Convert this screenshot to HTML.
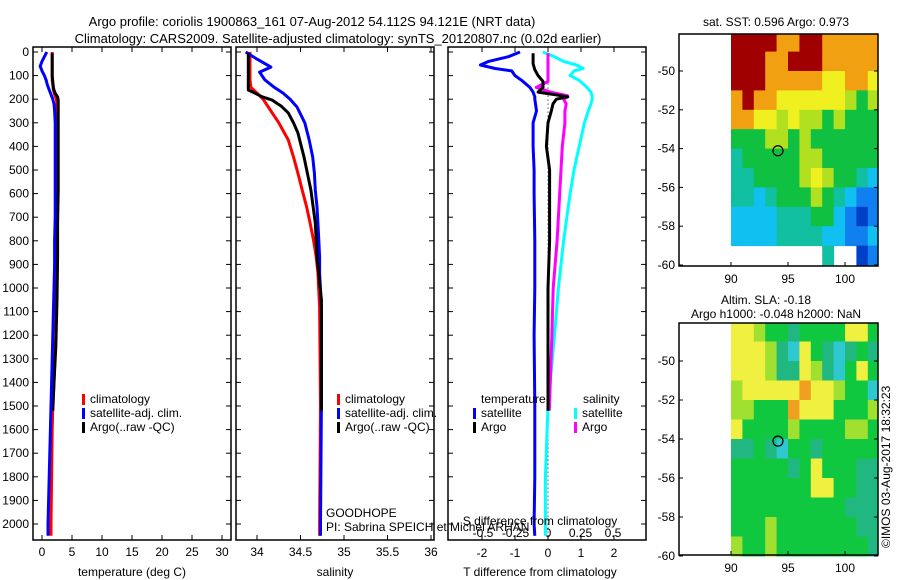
<!DOCTYPE html>
<html><head><meta charset="utf-8"><style>
html,body{margin:0;padding:0;background:#fff;}
svg{display:block;font-family:"Liberation Sans",sans-serif;}
</style></head><body>
<svg id="c" width="900" height="580" viewBox="0 0 900 580">
<text x="312" y="26" font-size="13" text-anchor="middle">Argo profile: coriolis 1900863_161 07-Aug-2012 54.112S 94.121E (NRT data)</text>
<text x="338" y="43" font-size="13" text-anchor="middle">Climatology: CARS2009. Satellite-adjusted climatology: synTS_20120807.nc (0.02d earlier)</text>
<text x="776" y="26" font-size="12" text-anchor="middle">sat. SST: 0.596 Argo: 0.973</text>
<text x="766" y="304" font-size="12" text-anchor="middle">Altim. SLA: -0.18</text>
<text x="776" y="318" font-size="12" text-anchor="middle">Argo h1000: -0.048 h2000: NaN</text>
<text transform="translate(890,548) rotate(-90)" font-size="12">©IMOS 03-Aug-2017 18:32:23</text>
<text x="326" y="517" font-size="12">GOODHOPE</text>
<text x="326" y="531" font-size="12">PI: Sabrina SPEICH et Michel ARHAN</text>
</svg>
<script>
// ---------- data ----------
const depthTicks=[0,100,200,300,400,500,600,700,800,900,1000,1100,1200,1300,1400,1500,1600,1700,1800,1900,2000];
const climDepth=[0,20,40,60,80,100,120,140,160,180,200,220,250,300,400,500,600,700,800,900,1000,1200,1400,1500,1600,1800,2000,2050];
const climT=[1.7,1.7,1.7,1.7,1.7,1.7,1.7,1.8,1.9,2.1,2.4,2.5,2.5,2.5,2.5,2.5,2.5,2.5,2.5,2.4,2.4,2.3,2.0,1.8,1.7,1.6,1.5,1.5];
const satT=[0.8,0.4,0.0,-0.3,0.0,0.4,0.7,0.9,1.2,1.5,1.8,2.0,2.1,2.2,2.2,2.2,2.2,2.2,2.1,2.1,2.0,1.8,1.6,1.5,1.4,1.2,1.0,1.0];
const salDepth=[0,30,64,85,118,150,174,200,233,300,373,445,513,585,656,725,797,868,936,1080,1500,2000,2050];
const climS=[33.92,33.92,33.92,33.92,33.92,33.93,34.0,34.07,34.13,34.25,34.36,34.42,34.47,34.52,34.57,34.61,34.65,34.68,34.7,34.72,34.73,34.72,34.72];
const satS=[33.87,34.0,34.16,34.03,34.09,34.2,34.3,34.38,34.46,34.55,34.6,34.64,34.66,34.67,34.69,34.7,34.71,34.72,34.72,34.74,34.74,34.73,34.73];
const argoDepth=[5,25,50,75,100,125,150,161,175,190,203,230,258,300,343,445,585,725,868,1050,1250,1400,1520];
const argoT=[1.7,1.7,1.7,1.7,1.7,1.8,1.9,2.0,2.2,2.6,2.7,2.7,2.7,2.7,2.7,2.7,2.7,2.6,2.6,2.5,2.3,2.0,1.8];
const argoS=[33.9,33.9,33.9,33.9,33.9,33.9,33.9,33.9,33.98,34.06,34.17,34.28,34.36,34.42,34.47,34.54,34.62,34.67,34.69,34.74,34.74,34.74,34.74];
const diffDepth=[0,20,40,55,70,80,100,120,150,170,190,200,220,250,300,400,500,600,800,1000,1200,1500,1800,2000,2050];
const dTsat=[-0.85,-1.2,-1.8,-2.05,-1.6,-1.1,-1.0,-0.8,-0.55,-0.45,-0.4,-0.4,-0.38,-0.35,-0.45,-0.45,-0.42,-0.42,-0.4,-0.4,-0.42,-0.4,-0.4,-0.42,-0.4];
const dSsat=[-0.04,0.05,0.12,0.22,0.27,0.2,0.17,0.24,0.3,0.33,0.34,0.34,0.33,0.31,0.28,0.24,0.2,0.17,0.12,0.08,0.05,0.0,-0.02,-0.02,-0.02];
const dDiffArgo=[5,25,50,75,100,125,150,170,185,190,200,220,250,300,400,500,600,800,1000,1200,1520];
const dTargo=[-0.45,-0.45,-0.45,-0.4,-0.3,-0.15,-0.15,-0.3,0.4,0.6,0.25,0.15,0.1,0.0,-0.05,0.05,0.05,0.05,0.0,0.0,0.0];
const dSargo=[0.0,0.0,0.0,0.0,0.0,0.0,-0.09,0.02,0.15,0.15,0.12,0.14,0.13,0.13,0.11,0.1,0.09,0.07,0.04,0.03,0.01];
const lonTicks=[90,95,100];
const latTicks=[-50,-52,-54,-56,-58,-60];
const mapLon0=90;
const sstGrid=[
[8,8,8,8,7,7,8,8,7,7,7,7,7],
[8,8,8,7,7,8,8,8,7,7,7,7,7],
[8,8,8,7,7,7,7,7,6,6,7,7,6],
[7,8,7,7,6,6,6,6,6,6,5,4,5],
[7,7,6,6,5,6,5,5,4,5,4,4,4],
[4,4,4,5,5,4,5,4,4,4,4,4,4],
[3,4,4,4,4,4,5,5,4,4,4,4,4],
[3,3,4,4,4,4,5,6,5,4,4,3,2],
[3,3,2,3,4,4,4,5,4,3,2,1,1],
[2,2,2,2,3,3,3,4,4,2,1,0,1],
[2,2,2,2,3,3,3,3,2,2,1,1,2],
[-1,-1,-1,-1,-1,-1,-1,-1,3,-1,-1,0,1]];
const slaGrid=[
[6,6,5,4,4,3,4,4,4,4,6,6,4],
[6,6,6,5,3,2,6,4,3,2,3,4,3],
[6,6,6,5,3,3,6,5,3,2,4,6,4],
[5,6,6,6,6,6,7,6,6,5,4,4,2],
[5,5,4,4,4,7,6,6,6,4,4,4,5],
[6,4,4,4,4,5,4,4,4,4,5,5,4],
[3,3,4,3,2,4,4,3,4,4,4,4,4],
[4,4,4,4,4,3,4,6,4,4,4,3,3],
[4,4,4,4,4,4,4,6,6,4,4,3,3],
[4,4,4,4,4,4,4,4,4,4,3,3,3],
[4,4,4,5,4,4,4,4,4,4,4,3,3],
[5,4,4,5,4,4,4,4,4,4,4,4,3]];
const argoLon=94.12, argoLat=-54.11;
const palette=["#0040c8","#1080f0","#10c0f0","#10c0a0","#10c040","#b0e020","#f0f020","#f0a010","#a00000"];
const slaPalette=["#0040c8","#10a0e0","#30c8d0","#20b880","#10c840","#a0e030","#f0f040","#f0a020","#a00000"];

// ---------- helpers ----------
const NS="http://www.w3.org/2000/svg";
const svg=document.getElementById('c');
function mk(tag,attrs,parent){const e=document.createElementNS(NS,tag);for(const k in attrs)e.setAttribute(k,attrs[k]);(parent||svg).appendChild(e);return e;}
const yD=d=>52+d*0.236;
const PY0=47,PY1=540;

function panel(x0,x1,name){
  const g=mk('g',{});
  
  
  const r=mk('rect',{x:x0,y:PY0,width:x1-x0,height:PY1-PY0,fill:'none',stroke:'#000','stroke-width':1.5},g);
  
  
  depthTicks.forEach(d=>{
    const y=yD(d);
    const t=mk('line',{x1:x0,x2:x0+5,y1:y,y2:y,stroke:'#000'},g);
    
    
    const t2=mk('line',{x1:x1,x2:x1-5,y1:y,y2:y,stroke:'#000'},g);
    
    
  });
  return g;
}
function xticks(g,vals,labels,fx,yl,top,bottom){
  vals.forEach((v,i)=>{
    const x=fx(v);
    if(bottom){const t=mk('line',{x1:x,x2:x,y1:PY1,y2:PY1-5,stroke:'#000'},g);
    
    }
    if(top){const t=mk('line',{x1:x,x2:x,y1:PY0,y2:PY0+5,stroke:'#000'},g);
    
    }
    const tx=mk('text',{x:x,y:yl,'font-size':12,'text-anchor':'middle'},g);
    tx.textContent=labels[i];
    
    
  });
}
function line(g,xs,ds,fx,color,name,w){
  const pts=xs.map((v,i)=>fx(v).toFixed(1)+','+yD(ds[i]).toFixed(1)).join(' ');
  const p=mk('polyline',{points:pts,fill:'none',stroke:color,'stroke-width':w||3,'stroke-linejoin':'round'},g);
  
  
}
function legendEntry(g,x,y,color,label){
  const r=mk('rect',{x:x,y:y-9,width:3,height:11,fill:color},g);
  
  
  const t=mk('text',{x:x+8,y:y,'font-size':12},g);
  t.textContent=label;
  
  
}

// depth labels
depthTicks.forEach(d=>{
  const t=mk('text',{x:29,y:yD(d)+4,'font-size':12,'text-anchor':'end'});
  t.textContent=d;
  
  
});

// panel 1: temperature
const fT=v=>42+v*6;
const g1=panel(33,231,'temperature-panel');
xticks(g1,[0,5,10,15,20,25,30],['0','5','10','15','20','25','30'],fT,556,true,true);
line(g1,climT,climDepth,fT,'#f00','clim-temperature-line');
line(g1,argoT,argoDepth,fT,'#000','argo-temperature-line');
line(g1,satT,climDepth,fT,'#00f','sat-temperature-line');
legendEntry(g1,82,403,'#f00','climatology');
legendEntry(g1,82,417,'#00f','satellite-adj. clim.');
legendEntry(g1,82,431,'#000','Argo(..raw -QC)');
let at=mk('text',{x:132,y:576,'font-size':12,'text-anchor':'middle'},g1);at.textContent='temperature (deg C)';



// panel 2: salinity
const fS=v=>257+(v-34)*87;
const g2=panel(236,434,'salinity-panel');
xticks(g2,[34,34.5,35,35.5,36],['34','34.5','35','35.5','36'],fS,556,true,true);
line(g2,climS,salDepth,fS,'#f00','clim-salinity-line');
line(g2,satS,salDepth,fS,'#00f','sat-salinity-line');
line(g2,argoS,argoDepth,fS,'#000','argo-salinity-line');
legendEntry(g2,337,403,'#f00','climatology');
legendEntry(g2,337,417,'#00f','satellite-adj. clim.');
legendEntry(g2,337,431,'#000','Argo(..raw -QC)');
at=mk('text',{x:335,y:576,'font-size':12,'text-anchor':'middle'},g2);at.textContent='salinity';



// panel 3: differences
const fdT=v=>548+v*33;
const fdS=v=>548+v*130;
const g3=panel(448,646,'difference-panel');
xticks(g3,[-2,-1,0,1,2],['-2','-1','0','1','2'],fdT,557,true,true);
xticks(g3,[-0.5,-0.25,0,0.25,0.5],['-0.5','-0.25','0','0.25','0.5'],fdS,537,false,false);
let zl=mk('line',{x1:fdT(0),x2:fdT(0),y1:yD(100),y2:yD(2050),stroke:'#000','stroke-dasharray':'1,3'},g3);


line(g3,dTsat,diffDepth,fdT,'#00f','dT-satellite-line');
line(g3,dSsat,diffDepth,fdS,'#0ff','dS-satellite-line');
line(g3,dSargo,dDiffArgo,fdS,'#f0f','dS-argo-line');
line(g3,dTargo,dDiffArgo,fdT,'#000','dT-argo-line');
at=mk('text',{x:481,y:403,'font-size':12},g3);at.textContent='temperature';


at=mk('text',{x:583,y:403,'font-size':12},g3);at.textContent='salinity';


legendEntry(g3,473,417,'#00f','satellite');
legendEntry(g3,473,431,'#000','Argo');
legendEntry(g3,574,417,'#0ff','satellite');
legendEntry(g3,574,431,'#f0f','Argo');
at=mk('text',{x:540,y:525,'font-size':12,'text-anchor':'middle'},g3);at.textContent='S difference from climatology';


at=mk('text',{x:540,y:576,'font-size':12,'text-anchor':'middle'},g3);at.textContent='T difference from climatology';



// maps
function map(top,grid,pal,name,latY){
  const X0=679,X1=878,Y1=top+232;
  const fx=lon=>731+(lon-90)*11.4;
  const fy=lat=>latY(lat);
  const g=mk('g',{});
  
  
  grid.forEach((row,r)=>row.forEach((v,c)=>{
    if(v<0)return;
    const xa=fx(mapLon0+c), xb=Math.min(fx(mapLon0+c+1),X1);
    const ya=Math.max(fy(-48-r),top), yb=fy(-49-r);
    const cell=mk('rect',{x:xa,y:ya,width:xb-xa+0.5,height:yb-ya+0.5,fill:pal[v]},g);
    
    
  }));
  const fr=mk('rect',{x:X0,y:top,width:X1-X0,height:Y1-top,fill:'none',stroke:'#000','stroke-width':1.5},g);
  
  
  latTicks.forEach(l=>{
    const y=fy(l);
    const t=mk('line',{x1:X0,x2:X0+4,y1:y,y2:y,stroke:'#000'},g);
    
    
    const t2=mk('line',{x1:X1,x2:X1-4,y1:y,y2:y,stroke:'#000'},g);
    
    
    const tx=mk('text',{x:675,y:y+4,'font-size':12,'text-anchor':'end'},g);tx.textContent=l;
    
    
  });
  lonTicks.forEach(l=>{
    const x=fx(l);
    const t=mk('line',{x1:x,x2:x,y1:Y1,y2:Y1-4,stroke:'#000'},g);
    
    
    const tx=mk('text',{x:x,y:Y1+17,'font-size':12,'text-anchor':'middle'},g);tx.textContent=l;
    
    
  });
  const m=mk('circle',{cx:fx(argoLon),cy:fy(argoLat),r:5,fill:'none',stroke:'#000','stroke-width':1.2},g);
  
  
}
map(34,sstGrid,palette,'sst-map',lat=>71+(-50-lat)*19.4);
map(323,slaGrid,slaPalette,'sla-map',lat=>361+(-50-lat)*19.5);
</script>
</body></html>
